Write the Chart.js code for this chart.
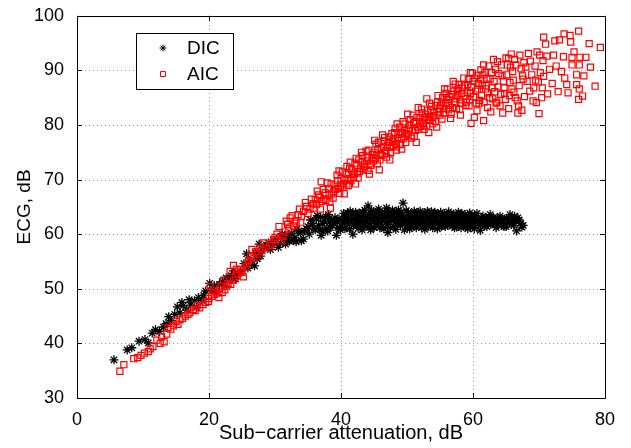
<!DOCTYPE html>
<html>
<head>
<meta charset="utf-8">
<script src="https://cdn.jsdelivr.net/npm/chart.js"></script>
<style>
  body { margin: 0; background: #fff; }
  #graph { display: block; }
</style>
</head>
<body>
<canvas id="graph" width="631" height="448"></canvas>
<script>
// values: [attenuation dB, ECG dB]
const dicPoints = [
  [5.6,37.0],[7.6,38.8],[8.3,39.2],[9.4,40.4],[10.3,40.7],[10.8,40.1],[11.4,41.9],[11.9,42.5],
  [12.5,42.2],[13.1,43.0],[13.5,43.6],[13.9,44.9],[14.3,44.2],[14.8,45.3],[15.2,46.7],[15.6,45.6],
  [15.9,47.5],[16.1,46.9],[16.6,46.1],[17.0,48.0],[17.2,47.0],[17.8,47.8],[18.1,46.6],[18.4,48.4],
  [18.9,47.9],[19.2,48.8],[19.5,49.6],[20.1,51.0],[20.5,49.8],[20.8,50.6],[21.1,49.4],[21.6,50.8],
  [22.0,51.3],[22.3,50.6],[22.6,52.0],[23.1,51.6],[23.4,52.4],[23.7,53.3],[24.0,51.8],[24.3,52.7],
  [24.8,53.1],[25.3,54.6],[25.7,56.4],[25.9,53.8],[26.1,55.2],[26.4,54.5],[26.9,54.2],[27.0,56.6],
  [27.3,55.5],[27.6,58.2],[27.8,56.0],[28.0,57.0],[28.4,57.6],[28.7,58.0],[29.0,58.4],[29.3,57.2],
  [29.6,58.0],[29.9,58.7],[30.2,59.1],[30.5,57.6],[30.8,58.3],[30.9,59.6],[31.1,60.0],[31.4,59.6],
  [31.6,58.2],[31.9,58.9],[32.0,59.8],[32.2,58.7],[32.5,60.2],[32.8,58.9],[33.0,59.4],[33.2,58.6],
  [33.3,60.9],[33.6,60.6],[33.9,60.2],[34.0,58.8],[34.3,59.1],[34.5,60.6],[34.8,61.0],[35.0,61.4],
  [35.2,60.0],[35.4,62.6],[35.7,62.0],[35.9,61.1],[36.1,60.8],[36.3,62.9],[36.4,63.4],[36.6,61.6],
  [36.8,60.9],[36.9,63.1],[37.0,59.8],[37.2,62.0],[37.3,60.5],[37.5,62.4],[37.7,63.2],[37.8,61.0],
  [38.0,60.6],[38.1,63.6],[38.3,62.2],[38.4,61.2],[38.6,62.6],[38.7,61.6],[38.9,62.0],[39.1,63.0],
  [39.3,59.8],[39.4,62.4],[39.5,61.2],[39.7,62.8],[39.9,60.8],[40.1,61.4],[40.2,62.2],[40.4,63.8],
  [40.5,63.2],[40.6,61.0],[40.7,62.7],[40.8,63.0],[40.9,62.1],[41.0,63.9],[41.1,62.3],[41.3,61.0],
  [41.4,64.2],[41.6,62.8],[41.7,63.7],[41.8,60.0],[41.9,61.6],[42.1,62.5],[42.2,64.0],[42.3,63.4],
  [42.4,62.9],[42.5,61.6],[42.6,61.1],[42.7,62.0],[42.8,63.9],[42.9,63.1],[43.0,62.6],[43.1,61.3],
  [43.2,60.8],[43.3,64.0],[43.4,62.0],[43.5,63.5],[43.6,64.4],[43.7,62.2],[43.8,61.4],[44.0,62.8],
  [44.1,65.2],[44.2,63.6],[44.3,62.0],[44.4,61.5],[44.5,60.8],[44.6,64.3],[44.7,62.6],[44.8,63.4],
  [44.9,64.1],[45.0,61.2],[45.1,63.2],[45.2,62.6],[45.3,61.6],[45.4,63.8],[45.5,62.2],[45.6,64.2],
  [45.7,64.6],[45.8,62.9],[45.9,61.2],[46.0,61.8],[46.1,63.6],[46.2,61.4],[46.3,62.4],[46.4,63.0],
  [46.5,61.0],[46.6,64.0],[46.7,62.9],[46.8,63.4],[46.9,64.8],[47.0,61.8],[47.1,60.3],[47.2,62.3],
  [47.3,64.0],[47.4,62.9],[47.5,61.2],[47.6,63.6],[47.7,63.2],[47.8,64.4],[47.9,62.6],[48.0,61.4],
  [48.1,63.8],[48.2,62.2],[48.3,60.9],[48.4,64.1],[48.5,62.6],[48.6,63.3],[48.7,64.4],[48.8,62.8],
  [48.9,62.0],[49.0,61.6],[49.1,64.0],[49.2,63.5],[49.3,62.2],[49.4,65.7],[49.5,63.0],[49.6,60.8],
  [49.7,61.9],[49.8,62.6],[49.9,64.3],[50.0,61.6],[50.1,63.9],[50.2,64.0],[50.3,62.9],[50.4,61.0],
  [50.5,62.4],[50.6,63.6],[50.7,61.3],[50.8,62.0],[50.9,63.2],[51.0,62.8],[51.1,64.2],[51.2,63.6],
  [51.3,61.6],[51.4,61.2],[51.5,62.5],[51.6,63.0],[51.7,64.0],[51.8,62.0],[51.9,63.4],[52.0,64.2],
  [52.1,62.7],[52.2,61.2],[52.3,61.9],[52.4,62.4],[52.5,63.5],[52.6,63.9],[52.7,60.9],[52.8,62.2],
  [52.9,61.8],[53.0,63.0],[53.1,64.2],[53.2,61.4],[53.3,63.0],[53.4,63.8],[53.5,62.6],[53.6,62.0],
  [53.7,64.1],[53.8,63.2],[53.9,61.2],[54.0,61.6],[54.1,62.2],[54.2,64.0],[54.3,63.7],[54.4,62.6],
  [54.5,63.3],[54.6,61.0],[54.7,62.4],[54.8,63.6],[54.9,61.6],[55.0,62.2],[55.1,64.0],[55.2,61.4],
  [55.3,62.8],[55.4,63.4],[55.5,61.9],[55.6,62.4],[55.7,63.8],[55.8,61.4],[55.9,62.9],[56.0,63.2],
  [56.1,62.0],[56.2,61.6],[56.3,64.1],[56.4,62.6],[56.5,63.1],[56.6,63.8],[56.7,62.5],[56.8,62.0],
  [56.9,61.5],[57.0,62.9],[57.1,63.7],[57.2,61.2],[57.3,62.6],[57.4,63.2],[57.5,61.3],[57.6,62.2],
  [57.7,63.5],[57.8,64.0],[57.9,62.8],[58.0,62.4],[58.1,61.8],[58.2,61.2],[58.3,63.8],[58.4,63.0],
  [58.5,62.9],[58.6,61.6],[58.7,62.3],[58.8,63.6],[58.9,61.4],[59.0,62.6],[59.1,61.9],[59.2,61.0],
  [59.3,63.2],[59.4,62.4],[59.5,63.9],[59.6,61.4],[59.7,62.3],[59.8,63.4],[59.9,62.8],[60.0,62.2],
  [60.1,61.6],[60.2,61.0],[60.3,63.4],[60.4,62.4],[60.5,62.8],[60.6,63.8],[60.8,61.9],[60.9,62.6],
  [61.1,60.7],[61.2,61.6],[61.3,63.0],[61.5,63.3],[61.6,62.2],[61.8,61.6],[61.9,62.6],[62.0,62.8],
  [62.1,61.4],[62.3,61.9],[62.4,63.2],[62.6,63.6],[62.7,61.8],[62.9,62.9],[63.0,62.0],[63.1,63.1],
  [63.3,62.5],[63.4,61.8],[63.5,61.2],[63.7,62.8],[63.8,62.3],[64.0,61.9],[64.1,63.3],[64.3,61.6],
  [64.4,62.7],[64.5,62.1],[64.7,61.4],[64.8,62.8],[65.0,61.4],[65.1,62.9],[65.3,62.4],[65.5,62.0],
  [65.6,63.6],[65.8,61.8],[65.9,62.8],[66.0,62.2],[66.2,61.6],[66.3,63.3],[66.5,62.4],[66.6,60.6],
  [66.8,63.0],[67.0,62.6],[67.2,62.0],[67.4,61.3],[67.6,61.6]
];

const aicPoints = [
  [6.5,34.9],[7.1,36.1],[8.6,37.2],[9.2,37.4],[9.7,37.8],[10.2,38.2],[10.8,38.5],[11.1,39.0],
  [11.5,39.4],[12.1,40.6],[12.6,40.0],[12.8,41.2],[13.2,40.3],[13.6,41.7],[13.8,42.9],[14.2,42.6],
  [14.6,43.2],[15.0,44.0],[15.3,43.5],[15.6,44.3],[16.0,44.6],[16.4,45.0],[16.8,45.3],[17.1,45.6],
  [17.6,46.2],[17.9,46.0],[18.2,46.9],[18.6,46.5],[19.1,47.1],[19.5,47.5],[19.9,47.7],[20.0,48.2],
  [20.2,50.4],[20.4,48.6],[20.6,49.6],[20.8,49.0],[21.2,49.2],[21.5,48.4],[21.6,50.0],[21.9,50.4],
  [22.0,49.3],[22.2,51.6],[22.4,49.8],[22.7,50.5],[22.9,51.0],[23.2,53.2],[23.3,50.8],[23.7,51.6],
  [23.7,54.3],[24.0,52.2],[24.2,53.6],[24.4,52.8],[24.8,53.5],[25.0,53.0],[25.2,52.2],[25.5,54.0],
  [25.8,54.6],[26.0,55.2],[26.3,56.0],[26.5,57.2],[26.8,55.6],[27.1,56.8],[27.4,56.3],[27.7,57.4],
  [28.0,57.0],[28.3,58.4],[28.6,57.5],[29.2,57.9],[29.5,58.4],[29.8,59.0],[30.0,59.4],[30.3,60.0],
  [30.6,61.4],[31.0,58.8],[31.2,59.6],[31.5,60.4],[31.7,62.4],[31.9,61.8],[32.1,61.0],[32.3,63.0],
  [32.6,63.4],[32.8,61.5],[33.0,62.4],[33.2,62.0],[33.5,63.6],[33.7,64.6],[33.9,62.2],[34.0,63.2],
  [34.3,64.2],[34.6,65.8],[34.8,65.1],[35.0,63.8],[35.3,64.6],[35.5,66.4],[35.8,65.6],[35.9,64.8],
  [36.1,66.3],[36.3,65.4],[36.4,67.9],[36.6,67.2],[36.8,66.8],[36.9,64.6],[37.0,69.6],[37.1,66.0],
  [37.3,68.2],[37.4,66.4],[37.6,67.6],[37.7,66.2],[37.9,69.4],[38.1,68.3],[38.2,67.2],[38.3,65.9],
  [38.4,64.8],[38.5,69.2],[38.6,67.4],[38.8,66.6],[38.9,67.8],[39.1,69.0],[39.2,68.2],[39.4,70.8],
  [39.5,69.8],[39.6,68.4],[39.7,71.6],[39.8,67.5],[39.9,68.8],[40.0,70.2],[40.2,71.4],[40.3,68.6],
  [40.4,69.3],[40.5,67.4],[40.6,70.0],[40.8,71.0],[40.9,72.4],[40.9,69.2],[41.1,68.9],[41.2,70.2],
  [41.3,72.0],[41.4,73.2],[41.5,69.8],[41.6,71.8],[41.8,71.2],[41.9,70.4],[42.0,71.0],[42.1,73.0],
  [42.2,69.2],[42.3,73.9],[42.4,72.6],[42.5,71.2],[42.6,70.3],[42.7,73.6],[42.8,71.5],[43.0,72.0],
  [43.1,75.0],[43.2,73.2],[43.3,74.4],[43.4,71.8],[43.5,72.8],[43.6,72.4],[43.8,75.2],[43.9,73.4],
  [44.0,74.0],[44.1,71.7],[44.2,75.4],[44.3,71.0],[44.4,73.0],[44.5,72.6],[44.7,74.0],[44.8,74.6],
  [44.9,73.4],[45.0,75.0],[45.1,77.2],[45.2,73.8],[45.3,76.5],[45.4,74.4],[45.5,72.9],[45.6,75.5],
  [45.7,76.8],[45.8,71.8],[45.9,73.6],[46.0,74.6],[46.1,75.8],[46.2,74.4],[46.3,78.2],[46.4,76.0],
  [46.5,77.0],[46.6,77.7],[46.7,74.8],[46.8,75.3],[46.9,74.1],[47.0,76.2],[47.2,76.8],[47.3,77.8],
  [47.4,73.6],[47.5,75.0],[47.6,75.9],[47.7,78.4],[47.8,77.0],[47.9,76.2],[48.0,77.5],[48.1,78.6],
  [48.2,79.4],[48.3,76.0],[48.4,76.6],[48.4,75.4],[48.5,80.2],[48.6,77.6],[48.8,78.3],[48.9,79.6],
  [49.0,76.4],[49.1,78.7],[49.2,77.4],[49.2,75.6],[49.3,78.6],[49.4,80.6],[49.5,77.6],[49.6,79.0],
  [49.7,80.2],[49.8,76.8],[49.9,78.4],[50.0,78.2],[50.1,82.0],[50.2,79.4],[50.4,80.0],[50.5,81.0],
  [50.6,78.0],[50.7,77.6],[50.8,79.0],[50.9,81.8],[51.0,80.4],[51.1,77.9],[51.2,80.6],[51.3,79.0],
  [51.4,76.8],[51.5,81.4],[51.6,79.6],[51.7,83.2],[51.8,79.2],[51.9,80.6],[52.0,81.3],[52.1,79.8],
  [52.2,82.9],[52.3,82.2],[52.4,80.4],[52.5,80.0],[52.6,79.2],[52.7,81.4],[52.8,82.0],[53.0,79.8],
  [53.0,84.8],[53.1,82.6],[53.2,81.0],[53.3,78.6],[53.4,84.0],[53.4,81.5],[53.5,80.8],[53.6,82.7],
  [53.7,83.4],[53.8,81.4],[53.9,80.2],[54.0,81.7],[54.1,82.2],[54.3,80.6],[54.4,83.6],[54.5,79.6],
  [54.6,84.2],[54.7,85.4],[54.8,82.4],[54.9,83.0],[55.0,81.8],[55.1,83.6],[55.2,84.2],[55.3,81.1],
  [55.4,85.0],[55.5,82.2],[55.6,83.0],[55.7,86.6],[55.8,84.0],[55.9,85.8],[56.0,85.0],[56.1,86.6],
  [56.2,84.6],[56.3,82.8],[56.4,83.6],[56.5,85.2],[56.6,81.2],[56.7,82.0],[56.8,85.6],[56.9,83.2],
  [57.0,88.0],[57.1,86.2],[57.2,84.2],[57.3,87.5],[57.4,84.8],[57.5,83.0],[57.6,86.2],[57.7,85.4],
  [57.8,86.7],[57.9,87.4],[58.0,84.6],[58.0,82.8],[58.1,81.8],[58.2,84.0],[58.3,85.8],[58.4,86.8],
  [58.6,88.6],[58.7,87.2],[58.8,85.3],[58.9,83.6],[59.0,84.2],[59.1,86.0],[59.2,87.4],[59.3,88.4],
  [59.4,83.5],[59.5,84.6],[59.6,85.8],[59.6,89.6],[59.7,80.3],[59.8,87.0],[59.9,89.5],[60.0,88.0],
  [60.1,85.2],[60.2,81.4],[60.3,88.6],[60.4,86.2],[60.5,84.0],[60.6,89.1],[60.6,82.6],[60.7,86.6],
  [60.8,87.6],[60.9,83.9],[61.0,84.5],[61.1,88.4],[61.2,90.1],[61.3,85.4],[61.4,87.3],[61.5,89.2],
  [61.6,80.8],[61.6,91.0],[61.7,84.2],[61.8,89.6],[61.9,86.6],[62.0,87.2],[62.1,88.6],[62.2,85.9],
  [62.2,83.2],[62.4,90.8],[62.5,85.0],[62.6,88.4],[62.7,82.4],[62.8,89.6],[62.9,86.8],[63.0,84.8],
  [63.1,92.0],[63.2,88.0],[63.3,86.1],[63.4,90.2],[63.5,84.0],[63.6,84.2],[63.7,91.6],[63.8,87.0],
  [63.9,89.4],[64.1,83.5],[64.2,85.6],[64.3,91.0],[64.4,89.0],[64.5,82.2],[64.6,88.0],[64.7,86.8],
  [64.8,85.8],[64.9,84.7],[65.0,92.3],[65.1,89.2],[65.2,91.0],[65.4,83.0],[65.4,92.2],[65.5,85.4],
  [65.6,87.8],[65.7,90.6],[65.8,93.0],[65.9,86.6],[66.0,89.8],[66.1,88.2],[66.2,86.0],[66.3,92.0],
  [66.4,85.0],[66.5,91.0],[66.7,84.4],[66.8,82.2],[66.9,83.5],[67.0,87.2],[67.1,92.8],[67.3,90.3],
  [67.4,82.7],[67.5,89.0],[67.6,88.4],[67.7,91.4],[67.8,85.2],[68.0,90.6],[68.2,88.0],[68.4,93.1],
  [68.6,86.2],[68.7,91.7],[68.9,89.2],[69.1,84.4],[69.2,86.8],[69.4,90.8],[69.5,88.2],[69.6,84.1],
  [69.7,93.4],[69.9,87.9],[70.0,82.1],[70.1,92.8],[70.2,89.6],[70.4,85.0],[70.5,86.8],[70.6,91.8],
  [70.7,96.1],[70.7,88.9],[71.0,94.8],[71.2,92.6],[71.3,85.7],[71.6,90.2],[72.0,87.6],[72.2,92.8],
  [72.4,95.4],[72.6,90.8],[72.9,86.1],[73.1,95.6],[73.4,89.8],[73.7,92.5],[73.8,96.7],[73.9,88.6],
  [74.2,87.4],[74.4,85.9],[74.7,96.4],[74.8,95.2],[75.0,92.4],[75.0,91.0],[75.3,93.4],[75.7,89.2],
  [75.7,87.4],[76.0,97.2],[76.0,84.7],[76.1,91.0],[76.1,86.6],[76.2,92.4],[76.6,85.3],[76.8,89.0],
  [77.1,92.4],[77.6,94.9],[77.8,90.6],[78.5,87.1],[79.3,94.2]
];

const xTicks = [0, 20, 40, 60, 80];
const yTicks = [30, 40, 50, 60, 70, 80, 90, 100];

const FONT = "'Liberation Sans', Arial, Helvetica, sans-serif";

const toXY = pts => pts.map(p => ({x: p[0], y: p[1]}));

// dotted grid under the marks
const dottedGrid = {
  id: 'dottedGrid',
  beforeDatasetsDraw(chart) {
    const ctx = chart.ctx;
    const a = chart.chartArea;
    const xs = chart.scales.x, ys = chart.scales.y;
    ctx.save();
    ctx.strokeStyle = '#999';
    ctx.lineWidth = 1;
    ctx.setLineDash([1, 3]);
    ctx.beginPath();
    xTicks.slice(1, -1).forEach(v => {
      const px = Math.round(xs.getPixelForValue(v)) + 0.5;
      ctx.moveTo(px, a.bottom); ctx.lineTo(px, a.top);
    });
    yTicks.slice(1, -1).forEach(v => {
      const py = Math.round(ys.getPixelForValue(v)) + 0.5;
      ctx.moveTo(a.left, py); ctx.lineTo(a.right, py);
    });
    ctx.stroke();
    ctx.restore();
  }
};

// box round the axes with inward ticks, plus the legend inside the plot
const matlabFrame = {
  id: 'matlabFrame',
  afterDraw(chart) {
    const ctx = chart.ctx;
    const a = chart.chartArea;
    const xs = chart.scales.x, ys = chart.scales.y;
    ctx.save();
    ctx.strokeStyle = '#000';
    ctx.lineWidth = 1;
    ctx.beginPath();
    ctx.rect(Math.round(a.left) + 0.5, Math.round(a.top) + 0.5,
             Math.round(a.right - a.left), Math.round(a.bottom - a.top));
    ctx.stroke();
    const tl = 5;
    ctx.beginPath();
    xTicks.forEach(v => {
      const px = Math.round(xs.getPixelForValue(v)) + 0.5;
      ctx.moveTo(px, a.bottom); ctx.lineTo(px, a.bottom - tl);
      ctx.moveTo(px, a.top); ctx.lineTo(px, a.top + tl);
    });
    yTicks.forEach(v => {
      const py = Math.round(ys.getPixelForValue(v)) + 0.5;
      ctx.moveTo(a.left, py); ctx.lineTo(a.left + tl, py);
      ctx.moveTo(a.right, py); ctx.lineTo(a.right - tl, py);
    });
    ctx.stroke();

    // legend
    const lx = 136.5, ly = 33.5, lw = 97, lh = 56;
    ctx.fillStyle = '#fff';
    ctx.fillRect(lx, ly, lw, lh);
    ctx.strokeRect(lx, ly, lw, lh);
    chart.data.datasets.forEach((ds, i) => {
      const cy = 48 + i * 26;
      const cx = 163;
      ctx.strokeStyle = ds.borderColor;
      ctx.beginPath();
      if (ds.pointStyle === 'star') {
        const r = 3.5;
        for (let k = 0; k < 4; k++) {
          const ang = k * Math.PI / 4;
          ctx.moveTo(cx - r * Math.cos(ang), cy - r * Math.sin(ang));
          ctx.lineTo(cx + r * Math.cos(ang), cy + r * Math.sin(ang));
        }
      } else {
        ctx.rect(cx - 2.5, cy - 2.5, 5, 5);
      }
      ctx.stroke();
      ctx.fillStyle = '#000';
      ctx.font = '19px ' + FONT;
      ctx.textBaseline = 'middle';
      ctx.textAlign = 'left';
      ctx.fillText(ds.label, 187, cy + 1);
    });
    ctx.restore();
  }
};

const data = {
  datasets: [
    {
      label: 'DIC',
      data: toXY(dicPoints),
      pointStyle: 'star',
      pointRadius: 4.5,
      pointBorderWidth: 1.3,
      borderColor: '#000',
      backgroundColor: '#000',
      order: 2
    },
    {
      label: 'AIC',
      data: toXY(aicPoints),
      pointStyle: 'rect',
      pointRadius: 4.3,
      pointBorderWidth: 1.2,
      borderColor: '#ff0000',
      backgroundColor: 'rgba(0,0,0,0)',
      order: 1
    }
  ]
};

const config = {
  type: 'scatter',
  data: data,
  options: {
    responsive: false,
    animation: false,
    devicePixelRatio: 1,
    layout: { padding: { left: 0, right: 26, top: 10, bottom: 0 } },
    plugins: { legend: { display: false }, tooltip: { enabled: false } },
    scales: {
      x: {
        type: 'linear',
        min: 0, max: 80,
        afterBuildTicks: s => { s.ticks = xTicks.map(v => ({value: v})); },
        afterFit: s => { s.height = 50; },
        grid: { display: false },
        border: { display: false },
        ticks: { color: '#000', padding: 3, font: { family: FONT, size: 18 } },
        title: { display: true, text: 'Sub\u2212carrier attenuation, dB', color: '#000',
                 padding: { top: 0, bottom: 3 }, font: { family: FONT, size: 20 } }
      },
      y: {
        type: 'linear',
        min: 30, max: 100,
        afterBuildTicks: s => { s.ticks = yTicks.map(v => ({value: v})); },
        afterFit: s => { s.width = 77; },
        grid: { display: false },
        border: { display: false },
        ticks: { color: '#000', padding: 5, font: { family: FONT, size: 18 } },
        title: { display: true, text: 'ECG, dB', color: '#000',
                 padding: { top: 13, bottom: 0 }, font: { family: FONT, size: 19 } }
      }
    }
  },
  plugins: [dottedGrid, matlabFrame]
};

const graph = document.querySelector('#graph');
new Chart(graph, config);
</script>
</body>
</html>
